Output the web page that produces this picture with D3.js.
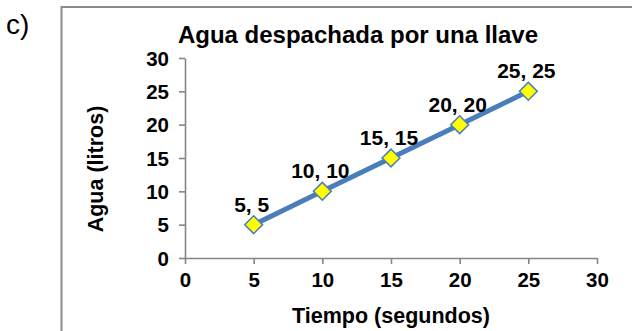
<!DOCTYPE html>
<html>
<head>
<meta charset="utf-8">
<script src="https://cdn.jsdelivr.net/npm/d3@7"></script>
<style>
  html, body { margin: 0; padding: 0; background: #fff; }
  svg { display: block; }
  text { font-family: "Liberation Sans", Arial, sans-serif; fill: #000; }
</style>
</head>
<body>
<svg id="chart" width="632" height="331"></svg>
<script>
// Water dispensed by a tap: seconds vs litres
const tiempo = [5, 10, 15, 20, 25];
const agua = [5, 10, 15, 20, 25];
const xTicks = [0, 5, 10, 15, 20, 25, 30];
const yTicks = [0, 5, 10, 15, 20, 25, 30];

const svg = d3.select("#chart");
const gridGray = "#868686";
const lineBlue = "#4a7ebb";

// panel label
svg.append("text").attr("x", 6).attr("y", 34)
  .style("font-size", "28px").text("c)");

// chart frame (left and top edges visible)
svg.append("path")
  .attr("d", "M61.5,331 V7 H632")
  .attr("fill", "none").attr("stroke", "#8c8c8c").attr("stroke-width", 2);

const x = d3.scaleLinear().domain([0, 30]).range([185, 597]);
const y = d3.scaleLinear().domain([0, 30]).range([258, 58]);

// axes
const xAxis = svg.append("g").attr("transform", "translate(0,258)")
  .call(d3.axisBottom(x).tickValues(xTicks).tickSize(6).tickSizeOuter(0).tickPadding(9));
const yAxis = svg.append("g").attr("transform", "translate(185,0)")
  .call(d3.axisLeft(y).tickValues(yTicks).tickSize(6).tickSizeOuter(0).tickPadding(10));

[xAxis, yAxis].forEach(g => {
  g.select(".domain").attr("stroke", gridGray).attr("stroke-width", 1.6);
  g.selectAll(".tick line").attr("stroke", gridGray).attr("stroke-width", 1.6);
  g.selectAll(".tick text")
    .attr("fill", "#000")
    .style("font-family", "'Liberation Sans', Arial, sans-serif")
    .style("font-size", "20.5px").style("font-weight", "bold");
});
xAxis.selectAll(".tick text").attr("dy", "0.7em");
yAxis.selectAll(".tick text").attr("dy", "0.35em");

// title and axis titles
svg.append("text").attr("x", 358).attr("y", 43)
  .attr("text-anchor", "middle")
  .style("font-size", "24px").style("font-weight", "bold")
  .text("Agua despachada por una llave");

svg.append("text").attr("x", 391).attr("y", 323)
  .attr("text-anchor", "middle")
  .style("font-size", "21.5px").style("font-weight", "bold")
  .text("Tiempo (segundos)");

svg.append("text")
  .attr("transform", "translate(103,169) rotate(-90)")
  .attr("text-anchor", "middle")
  .style("font-size", "21.5px").style("font-weight", "bold")
  .text("Agua (litros)");

// series
const pts = tiempo.map((t, i) => ({ t, a: agua[i] }));

svg.append("path")
  .datum(pts)
  .attr("fill", "none")
  .attr("stroke", lineBlue)
  .attr("stroke-width", 5)
  .attr("d", d3.line().x(d => x(d.t)).y(d => y(d.a)));

svg.selectAll(".marker").data(pts).join("path")
  .attr("class", "marker")
  .attr("transform", d => `translate(${x(d.t)},${y(d.a)}) rotate(45)`)
  .attr("d", "M-6.3,-6.3 H6.3 V6.3 H-6.3 Z")
  .attr("fill", "#ffff00")
  .attr("stroke", lineBlue)
  .attr("stroke-width", 1.5);

svg.selectAll(".dlabel").data(pts).join("text")
  .attr("class", "dlabel")
  .attr("x", d => x(d.t) - 2)
  .attr("y", d => y(d.a) - 13)
  .attr("text-anchor", "middle")
  .style("font-size", "21px").style("font-weight", "bold")
  .text(d => `${d.t}, ${d.a}`);
</script>
</body>
</html>
